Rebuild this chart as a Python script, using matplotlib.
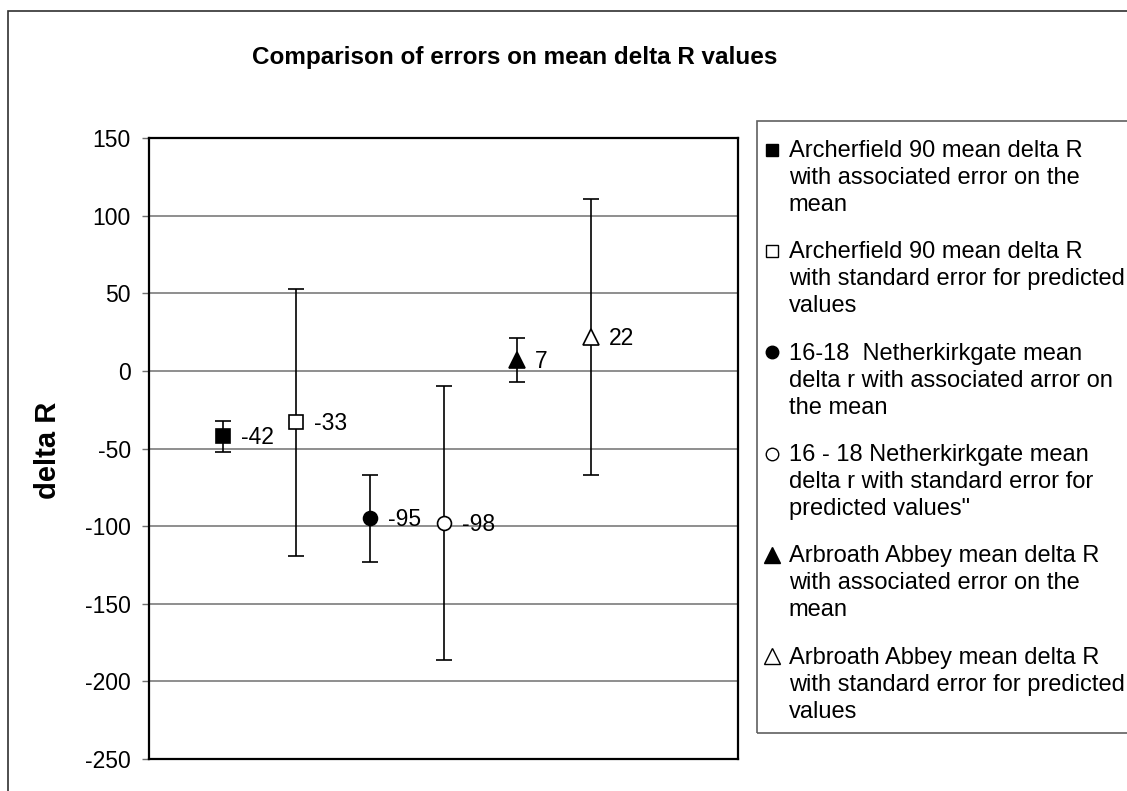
import matplotlib
matplotlib.use("Agg")
import matplotlib.pyplot as plt
from matplotlib.lines import Line2D
from matplotlib.patches import Rectangle

plt.rcParams['font.family'] = ['Liberation Sans', 'DejaVu Sans']
plt.rcParams['axes.unicode_minus'] = False

# data
positions = [1, 2, 3, 4, 5, 6]
means = [-42, -33, -95, -98, 7, 22]
errors = [10, 86, 28, 88, 14, 89]
labels = [
    "Archerfield 90 mean delta R\nwith associated error on the\nmean",
    "Archerfield 90 mean delta R\nwith standard error for predicted\nvalues",
    "16-18  Netherkirkgate mean\ndelta r with associated arror on\nthe mean",
    "16 - 18 Netherkirkgate mean\ndelta r with standard error for\npredicted values\"",
    "Arbroath Abbey mean delta R\nwith associated error on the\nmean",
    "Arbroath Abbey mean delta R\nwith standard error for predicted\nvalues",
]
markers = ['s', 's', 'o', 'o', '^', '^']
filled = [True, False, True, False, True, False]
yticks = [-250, -200, -150, -100, -50, 0, 50, 100, 150]

W, H = 1127, 791
fig = plt.figure(figsize=(W / 100, H / 100), dpi=100)
ax = fig.add_axes([149 / W, 1 - 759 / H, 589 / W, 621 / H])

# outer chart border (cropped on right and bottom)
fig.patches.append(Rectangle((8 / W, -0.1), 1.2, 1.1 - 11 / H,
                             transform=fig.transFigure, fill=False,
                             edgecolor='#303030', linewidth=1.2))
# legend frame (runs off the right edge)
fig.patches.append(Rectangle((757 / W, 1 - 733 / H), 0.5, 612 / H,
                             transform=fig.transFigure, fill=False,
                             edgecolor='#606060', linewidth=1.2))

ax.set_xlim(0, 8)
ax.set_ylim(-250, 150)
ax.set_yticks(yticks)
ax.set_xticks([])
ax.yaxis.grid(True, color='#707070', linewidth=1.1)
ax.set_axisbelow(True)
for s in ax.spines.values():
    s.set_linewidth(1.6)
    s.set_color('black')
ax.tick_params(axis='y', direction='out', length=5, width=1, color='#707070',
               labelsize=16.5, pad=8)

handles = []
for x, m, e, mk, f, lab in zip(positions, means, errors, markers, filled, labels):
    face = 'black' if f else 'white'
    ms = 11 if mk == '^' else 10
    ax.errorbar(x, m, yerr=e, fmt=mk, color='black', mfc=face, mec='black',
                ms=ms, mew=1.2, elinewidth=1.2, capsize=6, capthick=1.2, zorder=3)
    ax.annotate(str(m), (x, m), xytext=(13, -1), textcoords='offset points',
                va='center', ha='left', fontsize=16.5)
    handles.append(Line2D([], [], linestyle='none', marker=mk, mfc=face,
                          mec='black', ms=9 if mk != '^' else 11, mew=1))

fig.text(48 / W, 1 - 450 / H, "delta R", rotation=90, ha='center',
         va='center', fontsize=21, fontweight='bold')

fig.text(515 / W, 1 - 64 / H, "Comparison of errors on mean delta R values",
         ha='center', va='baseline', fontsize=17.5, fontweight='bold')

leg = fig.legend(handles, labels, loc='upper left',
                 bbox_to_anchor=(765 / W, 1 - 140 / H),
                 fontsize=17.0, frameon=False,
                 handlelength=0.6, handleheight=1.1, handletextpad=0.4,
                 borderpad=0, labelspacing=1.08, borderaxespad=0)
for t in leg.get_texts():
    t.set_linespacing(1.29)
# put each legend marker next to the first line of its label
for col in leg._legend_handle_box.get_children():
    for row in col.get_children():
        row.align = 'top'

fig.savefig("out.png", dpi=100)
